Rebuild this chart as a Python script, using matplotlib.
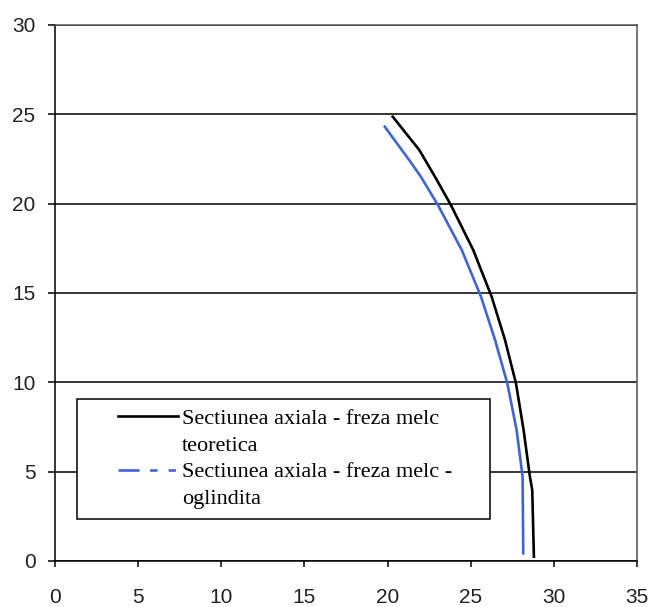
import numpy as np
import matplotlib
matplotlib.use("Agg")
import matplotlib.pyplot as plt
from matplotlib.lines import Line2D
from matplotlib.legend_handler import HandlerLine2D

# Axial section profile, theoretical hob (x = radius, y = height)
teoretic_y = [0.24, 3.97, 4.72, 7.33, 9.95, 12.38, 14.79, 17.41, 19.92, 21.51, 23.00, 24.87]
teoretic_x = [28.80, 28.70, 28.56, 28.18, 27.72, 27.06, 26.26, 25.15, 23.81, 22.85, 21.91, 20.31]

# Axial section profile, mirrored hob
oglindit_y = [0.43, 4.72, 7.33, 9.95, 12.38, 14.79, 17.41, 19.92, 21.51, 22.44, 24.31]
oglindit_x = [28.16, 28.12, 27.76, 27.20, 26.46, 25.62, 24.46, 23.03, 22.00, 21.30, 19.83]

x_ticks = [0, 5, 10, 15, 20, 25, 30, 35]
y_ticks = [0, 5, 10, 15, 20, 25, 30]

label_teoretic = ["Sectiunea axiala - freza melc", "teoretica"]
label_oglindit = ["Sectiunea axiala - freza melc -", "oglindita"]

BLUE = "#4163d8"


class InsetLineHandler(HandlerLine2D):
    """Legend line that starts part-way into the handle box."""

    def __init__(self, inset=0.0, **kw):
        super().__init__(**kw)
        self.inset = inset

    def get_xdata(self, legend, xdescent, ydescent, width, height, fontsize):
        _, xm = super().get_xdata(legend, xdescent, ydescent, width, height, fontsize)
        x0 = -xdescent + self.inset * width
        return np.array([x0, -xdescent + width]), xm


fig = plt.figure(figsize=(6.52, 6.07), dpi=100, facecolor="white")
ax = fig.add_axes([55 / 652, 46 / 607, 582 / 652, 536 / 607])
ax.set_facecolor("white")

ax.plot(teoretic_x, teoretic_y, color="black", lw=1.9, zorder=3,
        solid_joinstyle="round")
ax.plot(oglindit_x, oglindit_y, color=BLUE, lw=1.9, zorder=3,
        solid_joinstyle="round")

ax.set_xlim(x_ticks[0], x_ticks[-1])
ax.set_ylim(y_ticks[0], y_ticks[-1])
ax.set_xticks(x_ticks)
ax.set_yticks(y_ticks)

tick_font = dict(family="Liberation Sans", size=15)
ax.set_xticklabels([str(t) for t in x_ticks], fontdict=tick_font, color="#222222")
ax.set_yticklabels([str(t) for t in y_ticks], fontdict=tick_font, color="#222222")
ax.tick_params(axis="x", direction="out", length=4.5, width=1.1, pad=15, color="black")
ax.tick_params(axis="y", direction="out", length=5, width=1.1, pad=9, color="black")

ax.yaxis.grid(True, color="black", lw=1.1)
ax.set_axisbelow(True)

for side in ("left", "bottom"):
    ax.spines[side].set_color("black")
    ax.spines[side].set_linewidth(1.1)
for side in ("top", "right"):
    ax.spines[side].set_color("#555555")
    ax.spines[side].set_linewidth(1.1)

h_black = Line2D([], [], color="black", lw=1.9)
h_blue = Line2D([], [], color=BLUE, lw=1.9, linestyle=(0, (8, 4, 2.8, 4.2, 2.8, 2)))
h_blank = Line2D([], [], linestyle="none")

handles = [h_black, h_blank, h_blue, h_blank]
labels = [label_teoretic[0], label_teoretic[1], label_oglindit[0], label_oglindit[1]]

inset = InsetLineHandler(inset=0.346)
leg = ax.legend(
    handles, labels,
    loc="upper left",
    bbox_to_anchor=(22 / 582, 162 / 536, 413 / 582, 0.0),
    mode="expand",
    borderaxespad=0,
    frameon=True, fancybox=False, shadow=False, framealpha=1,
    edgecolor="black", facecolor="white",
    prop=dict(family="Liberation Serif", size=16),
    handlelength=4.13, handletextpad=0.18,
    borderpad=0.42, labelspacing=0.28,
    handler_map={h_black: inset, h_blue: inset},
)
leg.get_frame().set_linewidth(1.1)
leg.set_zorder(5)

fig.savefig("out.png", dpi=100, facecolor="white")
